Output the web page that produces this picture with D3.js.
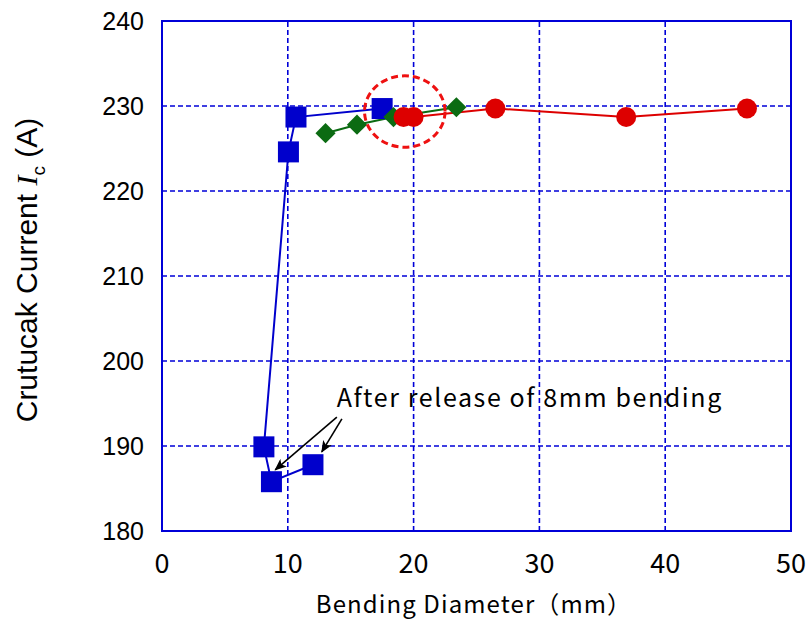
<!DOCTYPE html>
<html>
<head>
<meta charset="utf-8">
<script src="https://cdn.jsdelivr.net/npm/d3@7"></script>
<style>
  html, body { margin: 0; padding: 0; background: #fff; }
  svg { display: block; }
</style>
</head>
<body>
<div id="chart"></div>
<script>
// values
const blueX = [12.0, 8.7, 8.1, 10.05, 10.65, 17.5];
const blueY = [187.8, 185.8, 189.9, 224.6, 228.7, 229.7];
const greenX = [13.0, 15.5, 18.4, 23.4];
const greenY = [226.8, 227.8, 228.7, 229.85];
const redX = [19.2, 20.0, 26.5, 36.9, 46.5];
const redY = [228.7, 228.7, 229.7, 228.7, 229.7];
const xTicks = [0, 10, 20, 30, 40, 50];
const yTicks = [180, 190, 200, 210, 220, 230, 240];
const noteText = 'After release of 8mm bending';

const width = 809, height = 620;
const margin = { left: 162, right: 18, top: 21, bottom: 89 };

const svg = d3.select('#chart').append('svg')
  .attr('width', width)
  .attr('height', height);

const x = d3.scaleLinear().domain([0, 50]).range([margin.left, width - margin.right]);
const y = d3.scaleLinear().domain([180, 240]).range([height - margin.bottom, margin.top]);

const gridColor = '#0000d8';

// Grid
svg.append('g')
  .selectAll('line.vg')
  .data(xTicks.slice(1, -1))
  .join('line')
  .attr('x1', d => x(d)).attr('x2', d => x(d))
  .attr('y1', y(180)).attr('y2', y(240))
  .attr('stroke', gridColor)
  .attr('stroke-width', 1.6)
  .attr('stroke-dasharray', '5,3');
svg.append('g')
  .selectAll('line.hg')
  .data(yTicks.slice(1, -1))
  .join('line')
  .attr('x1', x(0)).attr('x2', x(50))
  .attr('y1', d => y(d)).attr('y2', d => y(d))
  .attr('stroke', gridColor)
  .attr('stroke-width', 1.6)
  .attr('stroke-dasharray', '5,3');

// Frame
svg.append('rect')
  .attr('x', x(0)).attr('y', y(240))
  .attr('width', x(50) - x(0)).attr('height', y(180) - y(240))
  .attr('fill', 'none')
  .attr('stroke', gridColor)
  .attr('stroke-width', 2);

// Tick labels
svg.append('g')
  .selectAll('text')
  .data(yTicks)
  .join('text')
  .attr('x', 144)
  .attr('y', d => y(d) + 9)
  .attr('text-anchor', 'end')
  .attr('font-family', 'Liberation Sans, Arial, sans-serif')
  .attr('font-size', 25)
  .attr('fill', '#000')
  .text(d => d);

svg.append('g')
  .selectAll('text')
  .data(xTicks)
  .join('text')
  .attr('x', d => x(d))
  .attr('y', 573)
  .attr('text-anchor', 'middle')
  .attr('font-family', 'Noto Sans CJK JP, sans-serif')
  .attr('font-size', 27)
  .attr('fill', '#000')
  .text(d => d);

// Axis titles
svg.append('text')
  .attr('x', 474)
  .attr('y', 613)
  .attr('text-anchor', 'middle')
  .attr('font-family', 'Noto Sans CJK JP, sans-serif')
  .attr('font-size', 24)
  .attr('letter-spacing', 1.1)
  .attr('fill', '#000')
  .text('Bending Diameter（mm）');

const yl = svg.append('text')
  .attr('transform', 'translate(37,270) rotate(-90)')
  .attr('text-anchor', 'middle')
  .attr('font-family', 'Liberation Sans, Arial, sans-serif')
  .attr('font-size', 30)
  .attr('fill', '#000');
yl.append('tspan').text('Crutucak Current ');
yl.append('tspan').attr('font-family', 'Liberation Serif, serif').attr('font-style', 'italic').text('I');
yl.append('tspan').attr('font-size', 19).attr('dy', 8).text('c');
yl.append('tspan').attr('dy', -8).text(' (A)');

// Series
const toPts = (xs, ys) => xs.map((v, i) => [v, ys[i]]);
const line = d3.line().x(d => x(d[0])).y(d => y(d[1]));

const blue = toPts(blueX, blueY);
const green = toPts(greenX, greenY);
const red = toPts(redX, redY);

svg.append('path').datum(blue).attr('d', line)
  .attr('fill', 'none').attr('stroke', '#0000cc').attr('stroke-width', 2);
svg.append('path').datum(green).attr('d', line)
  .attr('fill', 'none').attr('stroke', '#0b6b12').attr('stroke-width', 2);
svg.append('path').datum(red).attr('d', line)
  .attr('fill', 'none').attr('stroke', '#dd0000').attr('stroke-width', 2);

svg.append('g').selectAll('rect')
  .data(blue)
  .join('rect')
  .attr('x', d => x(d[0]) - 10.5)
  .attr('y', d => y(d[1]) - 10.5)
  .attr('width', 21).attr('height', 21)
  .attr('fill', '#0000cc');

svg.append('g').selectAll('path')
  .data(green)
  .join('path')
  .attr('d', d3.symbol(d3.symbolDiamond2, 260))
  .attr('transform', d => `translate(${x(d[0])},${y(d[1])})`)
  .attr('fill', '#0b6b12');

svg.append('g').selectAll('circle')
  .data(red)
  .join('circle')
  .attr('cx', d => x(d[0]))
  .attr('cy', d => y(d[1]))
  .attr('r', 10)
  .attr('fill', '#dd0000');

// Dashed highlight ellipse
svg.append('ellipse')
  .attr('cx', x(19.3)).attr('cy', y(229.35))
  .attr('rx', x(19.3 + 3.2) - x(19.3))
  .attr('ry', y(229.35) - y(229.35 + 4.2))
  .attr('fill', 'none')
  .attr('stroke', '#ee1111')
  .attr('stroke-width', 3)
  .attr('stroke-dasharray', '7,4');

// Annotation
svg.append('defs').append('marker')
  .attr('id', 'arr')
  .attr('viewBox', '0 0 12 10')
  .attr('refX', 11).attr('refY', 5)
  .attr('markerWidth', 12).attr('markerHeight', 10)
  .attr('markerUnits', 'userSpaceOnUse')
  .attr('orient', 'auto')
  .append('path')
  .attr('d', 'M0,0 L12,5 L0,10 L3,5 Z')
  .attr('fill', '#000');

const arrows = [
  [[13.9, 193.4], [9.0, 187.2]],
  [[14.3, 193.2], [12.7, 189.3]]
];
svg.append('g').selectAll('line')
  .data(arrows)
  .join('line')
  .attr('x1', d => x(d[0][0])).attr('y1', d => y(d[0][1]))
  .attr('x2', d => x(d[1][0])).attr('y2', d => y(d[1][1]))
  .attr('stroke', '#000')
  .attr('stroke-width', 1.6)
  .attr('marker-end', 'url(#arr)');

svg.append('text')
  .attr('x', x(13.9))
  .attr('y', y(194.6))
  .attr('font-family', 'Noto Sans CJK JP, sans-serif')
  .attr('font-size', 25)
  .attr('letter-spacing', 1.6)
  .attr('fill', '#000')
  .text(noteText);
</script>
</body>
</html>
